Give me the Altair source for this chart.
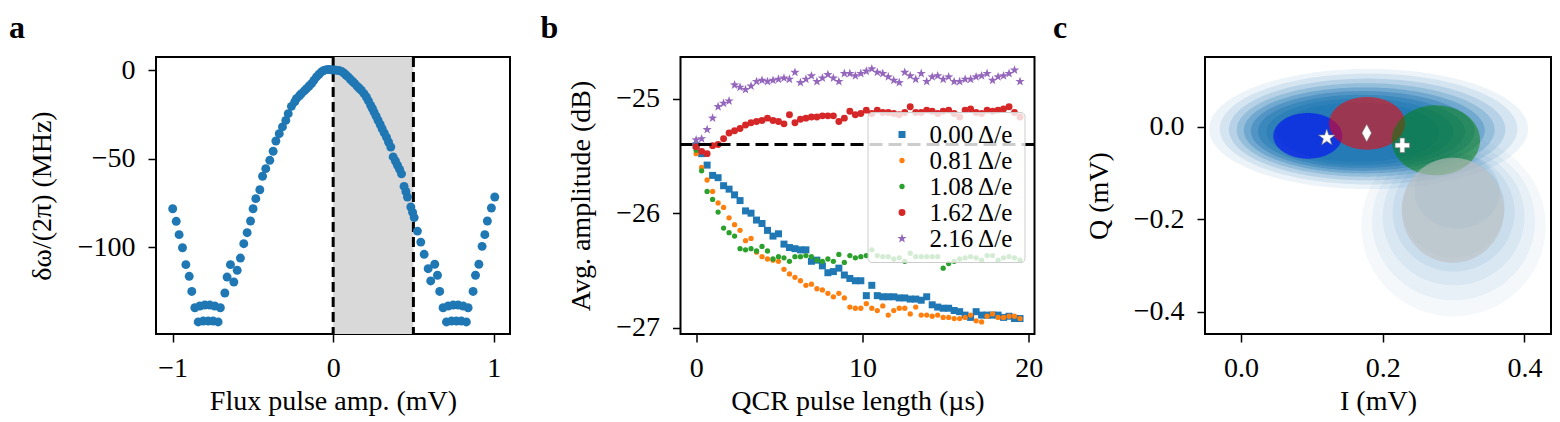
import altair as alt
import numpy as np
import pandas as pd

FONT = "Liberation Serif"

# ---------------- Panel a : frequency shift vs flux pulse amplitude ----------------
flux_x = [-1.000, -0.978, -0.960, -0.939, -0.918, -0.897, -0.881,
          -0.862, -0.831, -0.800, -0.769, -0.738, -0.703,
          -0.841, -0.810, -0.779, -0.748, -0.717,
          -0.675, -0.661, -0.640, -0.619, -0.598, -0.578, -0.557, -0.536, -0.515, -0.499,
          -0.482, -0.457, -0.440, -0.420, -0.395, -0.374, -0.357, -0.336, -0.316, -0.295,
          -0.280, -0.260, -0.240, -0.229, -0.210, -0.198, -0.180, -0.166, -0.150, -0.135,
          -0.120, -0.104, -0.088, -0.073, -0.058, -0.042, -0.027, -0.011,
          0.005, 0.020, 0.036, 0.052, 0.068, 0.080, 0.093, 0.107, 0.121, 0.135,
          0.150, 0.163, 0.176, 0.192, 0.207, 0.220, 0.234, 0.245, 0.255, 0.268,
          0.280, 0.293, 0.305, 0.318, 0.332, 0.345, 0.359, 0.374, 0.388, 0.401,
          0.414, 0.426, 0.442, 0.453, 0.463, 0.484, 0.495, 0.505, 0.525, 0.546,
          0.567, 0.592, 0.608, 0.633, 0.650, 0.664,
          0.685, 0.717, 0.748, 0.779, 0.810, 0.841,
          0.706, 0.737, 0.768, 0.799, 0.830,
          0.872, 0.887, 0.908, 0.928, 0.945, 0.961, 0.986, 1.007]
flux_y = [-78.2, -85.3, -92.8, -100.2, -109.7, -116.3, -124.8,
          -134.0, -133.0, -132.5, -132.5, -133.0, -134.0,
          -142.0, -141.5, -141.5, -141.5, -142.0,
          -125.7, -116.7, -109.7, -119.5, -112.9, -106.0, -97.9, -91.7, -85.1, -78.2,
          -72.5, -67.5, -59.9, -55.6, -50.9, -45.8, -40.0, -35.9, -32.1, -28.4,
          -24.6, -20.5, -18.0, -16.2, -14.5, -13.3, -11.8, -10.5, -9.0, -7.7,
          -5.8, -3.9, -2.4, -1.1, -0.3, 0.2, 0.3, 0.1,
          0.0, -0.1, -0.3, -0.8, -1.8, -2.8, -3.9, -5.2, -6.5, -7.7,
          -9.2, -10.3, -11.5, -13.3, -15.2, -17.4, -19.9, -21.8, -23.7, -26.0,
          -28.4, -30.7, -33.1, -35.4, -37.8, -40.6, -43.4, -49.0, -51.3, -53.7,
          -56.0, -58.5, -65.6, -68.5, -71.6, -77.2, -80.2, -83.2, -90.8, -97.0,
          -103.9, -112.0, -118.9, -109.5, -115.7, -124.8,
          -134.0, -133.0, -132.5, -132.5, -133.0, -134.0,
          -142.0, -141.5, -141.5, -141.5, -142.0,
          -124.8, -115.7, -109.5, -99.4, -92.8, -85.1, -77.8, -71.6]
band_edges = [0.0, 0.5]

# ---------------- Panel b : average amplitude vs QCR pulse length ----------------
qcr_t = [0.00, 0.33, 0.66, 0.99, 1.32, 1.65, 1.98, 2.31, 2.64, 2.97,
         3.30, 3.63, 3.96, 4.29, 4.62, 4.95, 5.28, 5.61, 5.94, 6.27,
         6.60, 6.93, 7.26, 7.59, 7.92, 8.25, 8.58, 8.91, 9.24, 9.57,
         9.90, 10.23, 10.56, 10.89, 11.22, 11.55, 11.88, 12.21, 12.54, 12.87,
         13.20, 13.53, 13.86, 14.19, 14.52, 14.85, 15.18, 15.51, 15.84, 16.17,
         16.50, 16.83, 17.16, 17.49, 17.82, 18.15, 18.48, 18.81, 19.14, 19.47]
amp_000 = [-25.41, -25.48, -25.58, -25.67, -25.69, -25.76, -25.79, -25.84, -25.89, -25.98,
           -26.00, -26.06, -26.09, -26.15, -26.20, -26.18, -26.27, -26.30, -26.31, -26.32,
           -26.32, -26.42, -26.41, -26.46, -26.52, -26.51, -26.48, -26.54, -26.57, -26.59,
           -26.59, -26.72, -26.63, -26.72, -26.73, -26.73, -26.73, -26.74, -26.74, -26.75,
           -26.75, -26.76, -26.73, -26.80, -26.82, -26.83, -26.83, -26.85, -26.86, -26.89,
           -26.91, -26.86, -26.89, -26.89, -26.89, -26.89, -26.91, -26.90, -26.92, -26.92]
amp_081 = [-25.48, -25.60, -25.71, -25.81, -25.91, -25.95, -26.04, -26.10, -26.15, -26.24,
           -26.22, -26.34, -26.38, -26.40, -26.41, -26.42, -26.49, -26.53, -26.56, -26.59,
           -26.63, -26.62, -26.66, -26.67, -26.70, -26.73, -26.70, -26.74, -26.82, -26.83,
           -26.83, -26.79, -26.83, -26.85, -26.81, -26.89, -26.85, -26.83, -26.83, -26.88,
           -26.82, -26.89, -26.89, -26.90, -26.89, -26.91, -26.91, -26.92, -26.92, -26.91,
           -26.89, -26.94, -26.95, -26.90, -26.88, -26.91, -26.91, -26.90, -26.90, -26.92]
amp_108 = [-25.45, -25.63, -25.81, -25.88, -25.99, -26.13, -26.17, -26.20, -26.31, -26.32,
           -26.31, -26.33, -26.29, -26.33, -26.40, -26.38, -26.39, -26.42, -26.38, -26.38,
           -26.37, -26.38, -26.41, -26.42, -26.40, -26.42, -26.36, -26.43, -26.37, -26.39,
           -26.38, -26.37, -26.32, -26.37, -26.38, -26.38, -26.40, -26.39, -26.42, -26.35,
           -26.38, -26.38, -26.38, -26.38, -26.38, -26.48, -26.44, -26.42, -26.40, -26.39,
           -26.38, -26.39, -26.41, -26.37, -26.37, -26.41, -26.39, -26.38, -26.39, -26.41]
amp_162 = [-25.42, -25.46, -25.48, -25.41, -25.40, -25.35, -25.30, -25.28, -25.26, -25.23,
           -25.21, -25.20, -25.19, -25.17, -25.19, -25.20, -25.22, -25.14, -25.21, -25.18,
           -25.17, -25.16, -25.16, -25.15, -25.15, -25.15, -25.20, -25.17, -25.11, -25.14,
           -25.13, -25.10, -25.13, -25.10, -25.12, -25.12, -25.13, -25.14, -25.12, -25.07,
           -25.12, -25.12, -25.10, -25.11, -25.13, -25.11, -25.10, -25.13, -25.16, -25.10,
           -25.09, -25.12, -25.13, -25.10, -25.11, -25.10, -25.09, -25.07, -25.12, -25.16]
amp_216 = [-25.36, -25.35, -25.27, -25.17, -25.07, -25.04, -25.02, -24.88, -24.90, -24.92,
           -24.89, -24.85, -24.84, -24.85, -24.84, -24.83, -24.82, -24.83, -24.77, -24.86,
           -24.83, -24.80, -24.85, -24.82, -24.79, -24.82, -24.85, -24.78, -24.78, -24.80,
           -24.78, -24.76, -24.74, -24.77, -24.78, -24.81, -24.84, -24.86, -24.77, -24.80,
           -24.83, -24.78, -24.85, -24.81, -24.80, -24.83, -24.81, -24.85, -24.85, -24.83,
           -24.83, -24.81, -24.80, -24.78, -24.84, -24.81, -24.80, -24.78, -24.75, -24.85]
series_labels = ["0.00 Δ/e", "0.81 Δ/e", "1.08 Δ/e", "1.62 Δ/e", "2.16 Δ/e"]
series_colors = ["#1f77b4", "#ff7f0e", "#2ca02c", "#d62728", "#9467bd"]
reference_level = [-25.4]

STAR = ("M0,-1L0.235,-0.324L0.951,-0.309L0.38,0.124L0.588,0.809L0,0.4"
        "L-0.588,0.809L-0.38,0.124L-0.951,-0.309L-0.235,-0.324Z")
PLUS = "M-1,-0.33L-0.33,-0.33L-0.33,-1L0.33,-1L0.33,-0.33L1,-0.33L1,0.33L0.33,0.33L0.33,1L-0.33,1L-0.33,0.33L-1,0.33Z"
THIN_DIAMOND = "M0,-1L0.55,0L0,1L-0.55,0Z"
series_shapes = ["square", "circle", "circle", "circle", STAR]
series_sizes = [49, 28, 28, 48, 95]

# ---------------- Panel c : IQ plane ----------------
# translucent density levels approximating the single-shot cloud (core, then tail)
cloud_cx = [0.180, 0.180, 0.178, 0.176, 0.174, 0.172, 0.170, 0.168, 0.165,
            0.300, 0.300, 0.300, 0.300, 0.300, 0.305]
cloud_cy = [-0.005, -0.005, -0.006, -0.007, -0.008, -0.009, -0.010, -0.011, -0.012,
            -0.215, -0.205, -0.195, -0.185, -0.175, -0.140]
cloud_rx = [0.225, 0.210, 0.195, 0.182, 0.170, 0.158, 0.146, 0.132, 0.115,
            0.130, 0.115, 0.100, 0.086, 0.072, 0.060]
cloud_ry = [0.130, 0.120, 0.110, 0.101, 0.093, 0.086, 0.079, 0.072, 0.064,
            0.195, 0.170, 0.148, 0.128, 0.108, 0.080]
cloud_op = [0.08, 0.12, 0.16, 0.22, 0.30, 0.38, 0.45, 0.50, 0.55,
            0.05, 0.06, 0.07, 0.08, 0.09, 0.10]
# fitted Gaussian blobs
blob_cx = [0.0943, 0.1779, 0.2750, 0.2990]
blob_cy = [-0.0198, 0.0073, -0.0294, -0.1806]
blob_rx = [0.0487, 0.0536, 0.0623, 0.0722]
blob_ry = [0.0494, 0.0570, 0.0757, 0.1135]
blob_color = ["#0000ff", "#ff0000", "#008000", "#c0c0c0"]
blob_op = [0.55, 0.55, 0.5, 0.6]
# state markers
marker_i = [0.121, 0.1774, 0.2277]
marker_q = [-0.0238, -0.0136, -0.0403]
marker_shape = [STAR, THIN_DIAMOND, PLUS]
marker_size = [300, 300, 210]


def ellipse_frame(cx, cy, rx, ry, key, n=121):
    t = np.linspace(np.pi, 0.0, n)
    h = ry * np.sin(t)
    return pd.DataFrame({"x": cx + rx * np.cos(t), "lo": cy - h, "hi": cy + h, "k": key})


def letter(txt, dx):
    return alt.Chart(pd.DataFrame({"t": [txt]})).mark_text(
        font=FONT, fontSize=32, fontWeight="bold", align="left",
        baseline="alphabetic", color="black"
    ).encode(text="t:N", x=alt.value(dx), y=alt.value(-19))


X_EXT = 53
PANEL_W = 354
GAP = 170.5

# ---------- panel a ----------
xs_a = alt.Scale(domain=[-1.104, 1.102], nice=False, zero=False)
ys_a = alt.Scale(domain=[-148.8, 7.33], nice=False, zero=False)
ax_a_x = alt.Axis(values=[-1, 0, 1], format="d", title="Flux pulse amp. (mV)",
                  minExtent=X_EXT, maxExtent=X_EXT, titlePadding=0)
ax_a_y = alt.Axis(values=[0, -50, -100], format="d", title="δω/(2π) (MHz)",
                  minExtent=100, maxExtent=100, titlePadding=0)

band_df = pd.DataFrame({"x0": [band_edges[0]], "x1": [band_edges[1]]})
band = alt.Chart(band_df).mark_rect(color="#d9d9d9").encode(
    x=alt.X("x0:Q", scale=xs_a, axis=ax_a_x), x2="x1:Q")
edges = alt.Chart(pd.DataFrame({"x": band_edges})).mark_rule(
    color="black", strokeWidth=3, strokeDash=[10, 5]).encode(
    x=alt.X("x:Q", scale=xs_a, axis=ax_a_x))
pts_a = alt.Chart(pd.DataFrame({"x": flux_x, "y": flux_y})).mark_circle(
    size=80, color="#1f77b4", opacity=1).encode(
    x=alt.X("x:Q", scale=xs_a, axis=ax_a_x),
    y=alt.Y("y:Q", scale=ys_a, axis=ax_a_y))
panel_a = alt.layer(band, edges, pts_a, letter("a", -147)).properties(width=PANEL_W, height=277)

# ---------- panel b ----------
xs_b = alt.Scale(domain=[-0.94, 20.34], nice=False, zero=False)
ys_b = alt.Scale(domain=[-27.055, -24.636], nice=False, zero=False)
ax_b_x = alt.Axis(values=[0, 10, 20], format="d", title="QCR pulse length (µs)",
                  minExtent=X_EXT, maxExtent=X_EXT, titlePadding=0)
ax_b_y = alt.Axis(values=[-25, -26, -27], format="d", title="Avg. amplitude (dB)",
                  minExtent=85, maxExtent=85, titlePadding=0)

rows = []
for lab, vals in zip(series_labels, [amp_000, amp_081, amp_108, amp_162, amp_216]):
    for t, v in zip(qcr_t, vals):
        rows.append({"t": t, "v": v, "s": lab})
df_b = pd.DataFrame(rows)

# legend position is relative to the first panel's plot origin
leg = alt.Legend(title=None, orient="none", legendX=PANEL_W + GAP + 187, legendY=55,
                 fillColor="rgba(255,255,255,0.8)", strokeColor="#cccccc",
                 cornerRadius=4, padding=10, labelFont=FONT, labelFontSize=25,
                 labelColor="black", rowPadding=-0.5, symbolOpacity=1,
                 symbolStrokeWidth=0, labelOffset=15, symbolOffset=12)
pts_b = alt.Chart(df_b).mark_point(filled=True, opacity=1, strokeWidth=0).encode(
    x=alt.X("t:Q", scale=xs_b, axis=ax_b_x),
    y=alt.Y("v:Q", scale=ys_b, axis=ax_b_y),
    color=alt.Color("s:N", scale=alt.Scale(domain=series_labels, range=series_colors), legend=leg),
    shape=alt.Shape("s:N", scale=alt.Scale(domain=series_labels, range=series_shapes), legend=leg),
    size=alt.Size("s:N", scale=alt.Scale(type="ordinal", domain=series_labels, range=series_sizes), legend=leg),
)
ref_line = alt.Chart(pd.DataFrame({"y": reference_level})).mark_rule(
    color="black", strokeWidth=3, strokeDash=[13, 6]).encode(
    y=alt.Y("y:Q", scale=ys_b, axis=ax_b_y))
panel_b = alt.layer(pts_b, ref_line, letter("b", -140)).properties(width=PANEL_W, height=277)

# ---------- panel c ----------
xs_c = alt.Scale(domain=[-0.0508, 0.4375], nice=False, zero=False)
ys_c = alt.Scale(domain=[-0.4482, 0.1507], nice=False, zero=False)
ax_c_x = alt.Axis(values=[0.0, 0.2, 0.4], format=".1f", title="I (mV)",
                  minExtent=X_EXT, maxExtent=X_EXT, titlePadding=0)
ax_c_y = alt.Axis(values=[0.0, -0.2, -0.4], format=".1f", title="Q (mV)",
                  minExtent=92, maxExtent=92, titlePadding=0)

cloud_df = pd.concat([
    ellipse_frame(cx, cy, rx, ry, i).assign(op=op)
    for i, (cx, cy, rx, ry, op) in enumerate(zip(cloud_cx, cloud_cy, cloud_rx, cloud_ry, cloud_op))
])
cloud = alt.Chart(cloud_df).mark_area(color="#1f77b4", clip=True).encode(
    x=alt.X("x:Q", scale=xs_c, axis=ax_c_x),
    y=alt.Y("lo:Q", scale=ys_c, axis=ax_c_y, stack=None),
    y2="hi:Q",
    detail="k:N",
    opacity=alt.Opacity("op:Q", scale=None))

layers_c = [cloud]
for i in range(len(blob_cx)):
    edf = ellipse_frame(blob_cx[i], blob_cy[i], blob_rx[i], blob_ry[i], i)
    layers_c.append(alt.Chart(edf).mark_area(color=blob_color[i], opacity=blob_op[i]).encode(
        x=alt.X("x:Q", scale=xs_c, axis=ax_c_x),
        y=alt.Y("lo:Q", scale=ys_c, axis=ax_c_y, stack=None),
        y2="hi:Q"))
for i in range(len(marker_i)):
    layers_c.append(alt.Chart(pd.DataFrame({"x": [marker_i[i]], "y": [marker_q[i]]})).mark_point(
        shape=marker_shape[i], size=marker_size[i], filled=True, fill="white",
        stroke="#777777", strokeWidth=0.6, opacity=1).encode(
        x=alt.X("x:Q", scale=xs_c, axis=ax_c_x),
        y=alt.Y("y:Q", scale=ys_c, axis=ax_c_y)))
layers_c.append(letter("c", -152))
panel_c = alt.layer(*layers_c).properties(width=346, height=277)

chart = alt.hconcat(panel_a, panel_b, panel_c, spacing=GAP, bounds="flush").properties(
    padding={"left": 0, "top": 3, "right": 0, "bottom": 0}
).configure(background="white").configure_view(
    stroke="black", strokeWidth=2
).configure_axis(
    labelFont=FONT, labelFontSize=28, labelColor="black",
    titleFont=FONT, titleFontSize=28, titleFontWeight="normal", titleColor="black",
    tickColor="black", tickSize=8, tickWidth=1.5, domain=False, grid=False,
    labelPadding=13
).configure_axisX(labelPadding=12)

chart.save("out.html", embed_options={"renderer": "svg", "actions": False})
